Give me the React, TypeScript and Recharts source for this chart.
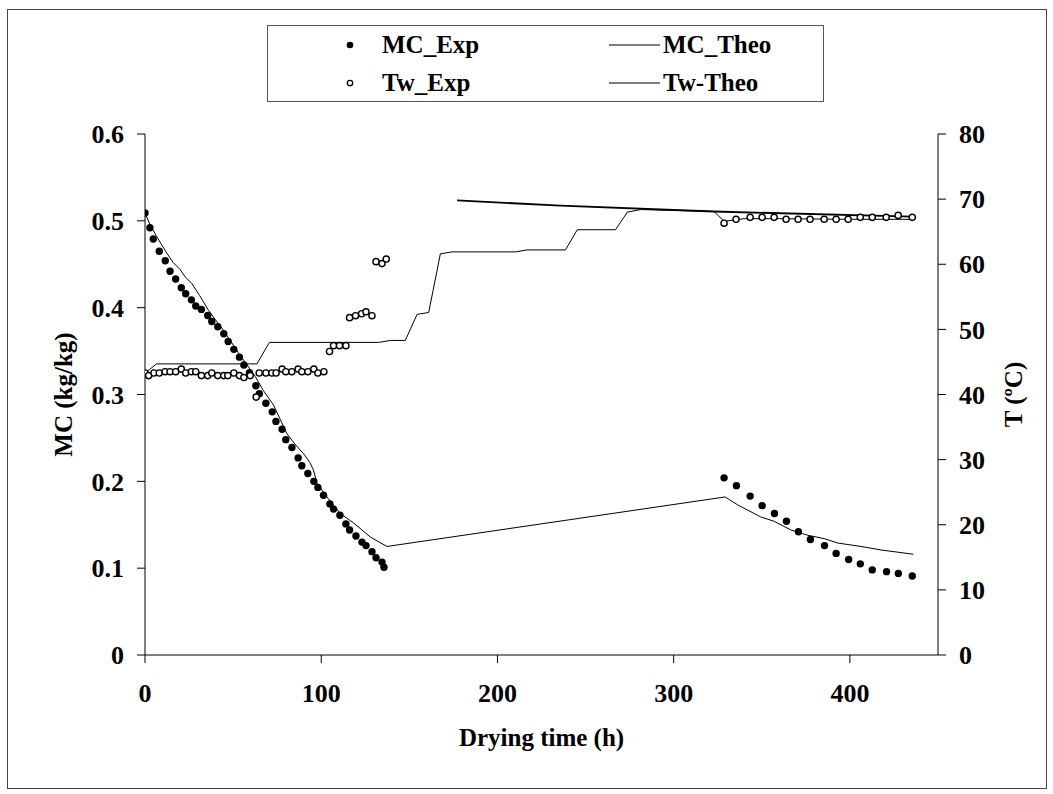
import { ComposedChart, Line, Scatter, XAxis, YAxis, Legend, Label } from "recharts";

// moisture content, measured (h, kg/kg)
const mcExpTime = [
  0, 2.8, 4.7, 8.1, 11.5, 14.2, 17.4, 20.6, 23.1, 26.3, 28.8, 32.0, 35.6, 37.9, 41.3, 44.7, 47.2, 50.4, 53.6, 56.1,
  59.3, 62.9, 64.9, 68.6, 72.2, 74.3, 77.8, 79.9, 83.4, 86.9, 89.0, 92.4, 95.8, 98.1, 101.3, 104.9, 107.0, 110.6,
  114.0, 116.1, 119.7, 123.1, 125.4, 128.8, 131.1, 134.5, 135.6,
  328.6, 335.6, 343.4, 350.2, 357.2, 364.0, 370.8, 377.6, 385.6, 392.2, 399.3, 405.9, 412.7, 420.8, 427.5, 435.4,
];
const mcExp = [
  0.509, 0.492, 0.479, 0.465, 0.454, 0.442, 0.433, 0.423, 0.416, 0.409, 0.402, 0.398, 0.391, 0.384, 0.378, 0.37,
  0.361, 0.352, 0.343, 0.334, 0.325, 0.31, 0.301, 0.29, 0.28, 0.269, 0.26, 0.248, 0.239, 0.227, 0.218, 0.209, 0.2,
  0.193, 0.184, 0.174, 0.168, 0.161, 0.151, 0.144, 0.137, 0.13, 0.126, 0.119, 0.112, 0.107, 0.101,
  0.204, 0.195, 0.183, 0.172, 0.163, 0.154, 0.142, 0.133, 0.126, 0.117, 0.11, 0.105, 0.098, 0.096, 0.094, 0.091,
];

// moisture content, model
const mcTheoTime = [
  0, 3, 6.6, 12.3, 16, 19.9, 23, 26.5, 31, 36, 40, 44.5, 53, 62.5, 67, 72.9, 80.5, 85, 89.9, 93.5, 95.6, 97.5, 104,
  110.8, 118.4, 127.8, 132, 137.3,
  329.2, 336.2, 349.4, 357, 366.5, 375.9, 385.4, 393, 406.3, 417.6, 436,
];
const mcTheo = [
  0.509, 0.495, 0.482, 0.463, 0.452, 0.444, 0.435, 0.428, 0.414, 0.397, 0.386, 0.374, 0.348, 0.321, 0.305, 0.288,
  0.255, 0.243, 0.232, 0.222, 0.213, 0.198, 0.18, 0.163, 0.152, 0.136, 0.131, 0.125,
  0.182, 0.173, 0.159, 0.154, 0.144, 0.138, 0.134, 0.129, 0.125, 0.121, 0.116,
];

// wood temperature, measured (ºC)
const twExpTime = [
  0, 2.1, 5.1, 8.1, 11.4, 14.2, 17.4, 20.6, 23.1, 26.3, 28.8, 32.0, 35.6, 37.9, 41.3, 44.7, 47.0, 50.4, 53.6, 56.1,
  59.7, 63.1, 64.8, 68.6, 72.0, 74.4, 77.8, 79.9, 83.3, 86.9, 89.0, 92.4, 95.8, 98.1, 101.5,
  104.7, 107.0, 110.4, 114.0, 116.1, 119.5, 122.9, 125.4, 128.8, 131.1, 134.5, 136.9,
  328.6, 335.4, 343.4, 350.2, 357.0, 363.8, 370.6, 377.4, 385.4, 392.2, 399.0, 405.9, 412.7, 420.6, 427.4, 435.4,
];
const twExp = [
  43.3, 42.9, 43.3, 43.3, 43.5, 43.5, 43.5, 43.9, 43.3, 43.5, 43.5, 42.9, 42.9, 43.3, 42.9, 42.9, 42.9, 43.3, 42.9,
  42.6, 42.9, 39.6, 43.3, 43.3, 43.3, 43.3, 43.9, 43.5, 43.5, 43.9, 43.5, 43.5, 43.9, 43.3, 43.5,
  46.6, 47.5, 47.5, 47.5, 51.8, 52.1, 52.4, 52.7, 52.1, 60.4, 60.1, 60.8,
  66.3, 66.9, 67.2, 67.2, 67.2, 66.9, 66.9, 66.9, 66.9, 66.9, 66.9, 67.2, 67.2, 67.2, 67.5, 67.2,
];

// wood temperature, model
const twTheoTime = [
  0, 6.6, 63.5, 70.6, 132.6, 139.2, 147.7, 154.4, 161, 167.6, 174.3, 210.2, 216.9, 238.6, 245.3, 267, 273.7, 281.3,
  322.9, 328.6, 340, 360, 400, 435.4,
];
const twTheo = [
  43.3, 44.7, 44.7, 48.0, 48.0, 48.3, 48.3, 52.3, 52.6, 61.6, 61.9, 61.9, 62.2, 62.2, 65.3, 65.3, 68.0, 68.4, 68.1,
  66.6, 67.0, 67.0, 66.9, 66.9,
];
const twTheo2Time = [177.1, 235.8, 322.9, 435.4];
const twTheo2 = [69.8, 69.0, 68.1, 67.3];

const xTicks = [0, 100, 200, 300, 400];
const mcTicks = [0, 0.1, 0.2, 0.3, 0.4, 0.5, 0.6];
const tTicks = [0, 10, 20, 30, 40, 50, 60, 70, 80];

const zip = (xs: number[], ys: number[]) => xs.map((x, i) => ({ x, y: ys[i] }));

const FONT = "'Liberation Serif', 'Times New Roman', serif";
const tickStyle = { fontSize: 26, fontFamily: FONT, fontWeight: 700, fill: "#000" };
const titleStyle = { fontSize: 25, fontFamily: FONT, fontWeight: 700, fill: "#000" };

const dotFilled = (p: any) => <circle cx={p.cx} cy={p.cy} r={3.7} fill="#000" />;
const dotOpen = (p: any) => <circle cx={p.cx} cy={p.cy} r={3.1} fill="#fff" stroke="#000" strokeWidth={1.4} />;

function LegendBox() {
  const txt: React.CSSProperties = {
    position: "absolute",
    fontFamily: FONT,
    fontWeight: 700,
    fontSize: 25,
    lineHeight: "30px",
    height: 30,
    whiteSpace: "nowrap",
    color: "#000",
  };
  const rows = [20, 58];
  return (
    <div
      style={{
        width: 557,
        height: 77,
        boxSizing: "border-box",
        border: "1px solid #555",
        background: "#fff",
        position: "relative",
      }}
    >
      <svg width={557} height={77} style={{ position: "absolute", left: -1, top: -1 }}>
        <circle cx={83} cy={rows[0]} r={3.3} fill="#000" />
        <circle cx={83} cy={rows[1]} r={2.7} fill="#fff" stroke="#000" strokeWidth={1.3} />
        <line x1={342} x2={393} y1={rows[0]} y2={rows[0]} stroke="#000" strokeWidth={1} />
        <line x1={342} x2={393} y1={rows[1]} y2={rows[1]} stroke="#000" strokeWidth={1} />
      </svg>
      <span style={{ ...txt, left: 114, top: rows[0] - 16 }}>MC_Exp</span>
      <span style={{ ...txt, left: 114, top: rows[1] - 16 }}>Tw_Exp</span>
      <span style={{ ...txt, left: 395, top: rows[0] - 16 }}>MC_Theo</span>
      <span style={{ ...txt, left: 395, top: rows[1] - 16 }}>Tw-Theo</span>
    </div>
  );
}

export default function App() {
  return (
    <div style={{ position: "absolute", left: 0, top: 0, width: 1053, height: 794, background: "#fff" }}>
      <div
        style={{
          position: "absolute",
          left: 7,
          top: 9,
          width: 1040,
          height: 780,
          border: "1.5px solid #444",
          boxSizing: "border-box",
        }}
      />
      <div style={{ position: "absolute", left: 0, top: 0 }}>
        <ComposedChart width={1053} height={794} margin={{ top: 134, right: 35, bottom: 39, left: 65 }}>
          <XAxis
            type="number"
            dataKey="x"
            domain={[0, 450]}
            ticks={xTicks}
            height={100}
            tickSize={8}
            tickMargin={21}
            tick={tickStyle}
            stroke="#000"
            allowDataOverflow
          >
            <Label value="Drying time (h)" position="insideBottom" offset={9} style={titleStyle} />
          </XAxis>
          <YAxis
            yAxisId="mc"
            type="number"
            dataKey="y"
            domain={[0, 0.6]}
            ticks={mcTicks}
            width={80}
            tickSize={8}
            tickMargin={13}
            tick={tickStyle}
            stroke="#000"
          >
            <Label value="MC (kg/kg)" angle={-90} position="center" dx={-42} style={titleStyle} />
          </YAxis>
          <YAxis
            yAxisId="t"
            orientation="right"
            type="number"
            dataKey="y"
            domain={[0, 80]}
            ticks={tTicks}
            width={80}
            tickSize={8}
            tickMargin={13}
            tick={tickStyle}
            stroke="#000"
          >
            <Label value="T (ºC)" angle={-90} position="center" dx={35} style={titleStyle} />
          </YAxis>
          <Legend
            layout="horizontal"
            verticalAlign="middle"
            align="center"
            wrapperStyle={{ left: 267, top: 25, width: 557, height: 77 }}
            content={() => <LegendBox />}
          />
          <Line
            yAxisId="mc"
            data={zip(mcTheoTime, mcTheo)}
            dataKey="y"
            type="linear"
            stroke="#000"
            strokeWidth={1}
            dot={false}
            isAnimationActive={false}
          />
          <Line
            yAxisId="t"
            data={zip(twTheoTime, twTheo)}
            dataKey="y"
            type="linear"
            stroke="#000"
            strokeWidth={1}
            dot={false}
            isAnimationActive={false}
          />
          <Line
            yAxisId="t"
            data={zip(twTheo2Time, twTheo2)}
            dataKey="y"
            type="linear"
            stroke="#000"
            strokeWidth={1.8}
            dot={false}
            isAnimationActive={false}
          />
          <Scatter yAxisId="mc" data={zip(mcExpTime, mcExp)} dataKey="y" shape={dotFilled} isAnimationActive={false} />
          <Scatter yAxisId="t" data={zip(twExpTime, twExp)} dataKey="y" shape={dotOpen} isAnimationActive={false} />
        </ComposedChart>
      </div>
    </div>
  );
}
